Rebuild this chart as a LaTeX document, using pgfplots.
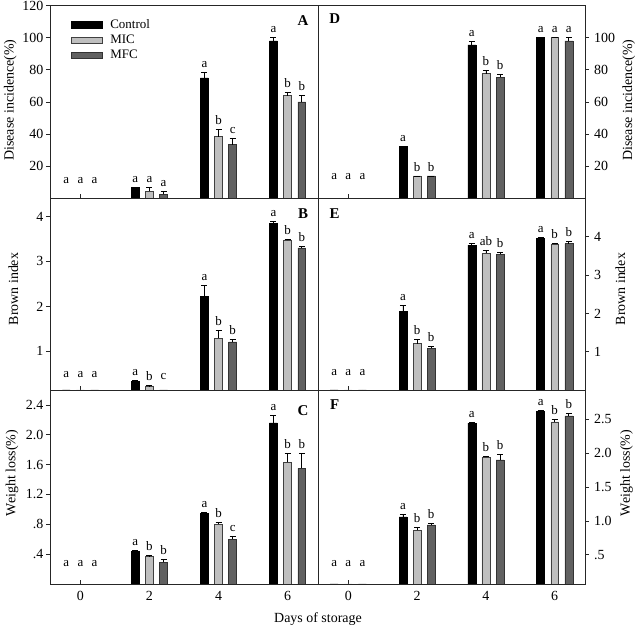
\documentclass[border=0pt]{standalone}
\usepackage{fontspec}
\setmainfont{Liberation Serif}
\usepackage{pgfplots}
\pgfplotsset{compat=1.18}

\pgfplotsset{
  base/.style={scale only axis, enlargelimits=false, ybar, bar width=0.23,
    xmin=-0.88, xmax=6.88, xtick={0,2,4,6}, xticklabels={}, xtick pos=lower,
    xtick align=inside, ytick align=outside, major tick length=4bp,
    axis line style={black!85, line width=0.7bp},
    every tick/.style={black!85, line width=0.7bp},
    /pgf/number format/assume math mode=true,
    tick label style={font=\fontsize{14}{16}\selectfont},
    xticklabel style={inner sep=0pt, yshift=-7.5bp},
    legend image code/.code={\draw[#1] (0bp,-3.2bp) rectangle (31bp,3.2bp);}},
  leftp/.style={base, width=268bp, ytick pos=left, yticklabel style={inner sep=2.5bp}},
  rightp/.style={base, width=267bp, ytick pos=right, yticklabel pos=right, yticklabel style={inner sep=5bp}},
  ylab/.style 2 args={every axis y label/.style={at={(axis description cs:#1,#2)}, rotate=90, anchor=base, font=\fontsize{14}{16}\selectfont}},
  ctrl/.style={fill=black, draw=black, line width=0.5bp, bar shift=-0.41},
  mic/.style={fill=black!25, draw=black!75, line width=0.5bp, bar shift=0},
  mfc/.style={fill=black!62, draw=black!80, line width=0.5bp, bar shift=0.41},
  errb/.style={error bars/.cd, y dir=plus, y explicit,
    error bar style={black, line width=0.7bp},
    error mark options={rotate=90, mark size=3bp, black, line width=0.7bp}},
}
\tikzset{lettr/.style={font=\fontsize{13}{15}\selectfont, anchor=south, inner sep=0pt, yshift=4.5bp},
  plab/.style={font=\bfseries\fontsize{15}{17}\selectfont}}
\newcommand{\lt}[3]{\node[lettr] at (axis cs:#1,#2) {#3};}

\begin{document}
\begin{tikzpicture}
\path[use as bounding box] (0bp,0bp) rectangle (638bp,627bp);

% ---------- A ----------
\begin{axis}[leftp, at={(50bp,428.5bp)}, anchor=south west, height=193bp,
  ymin=0, ymax=120, ytick={20,40,60,80,100,120},
  ylab={-0.136}{0.51}, ylabel={Disease incidence(\%)},
  legend style={at={(axis description cs:0.077,0.928)}, anchor=north west, draw=none, fill=none,
    inner sep=0pt, font=\fontsize{13}{15}\selectfont, row sep=5bp,
    nodes={inner sep=0pt}, /tikz/every odd column/.append style={column sep=8bp}},
  legend cell align=left]
\addplot[ctrl, errb] coordinates {(0,0) +- (0,0) (2,6.7) +- (0,0.3) (4,75) +- (0,3.4) (6,98) +- (0,2)};
\addplot[mic, errb] coordinates {(0,0) +- (0,0) (2,4.5) +- (0,2.3) (4,38.5) +- (0,4.2) (6,64) +- (0,2)};
\addplot[mfc, errb] coordinates {(0,0) +- (0,0) (2,2.5) +- (0,2) (4,33.5) +- (0,4.2) (6,60) +- (0,4)};
\legend{Control,MIC,MFC}
\lt{-0.41}{6.2}{a}\lt{0}{6.2}{a}\lt{0.41}{6.2}{a}
\lt{1.59}{7.0}{a}\lt{2}{6.8}{a}\lt{2.41}{4.5}{a}
\lt{3.59}{78.4}{a}\lt{4}{42.7}{b}\lt{4.41}{37.7}{c}
\lt{5.59}{100}{a}\lt{6}{66}{b}\lt{6.41}{64}{b}
\node[plab] at (axis description cs:0.944,0.921) {A};
\end{axis}

% ---------- D ----------
\begin{axis}[rightp, at={(318bp,428.5bp)}, anchor=south west, height=193bp,
  ymin=0, ymax=120, ytick={20,40,60,80,100},
  ylab={1.176}{0.51}, ylabel={Disease incidence(\%)}]
\addplot[ctrl, errb] coordinates {(0,0) +- (0,0) (2,32.5) +- (0,0) (4,95.5) +- (0,2) (6,100) +- (0,0)};
\addplot[mic, errb] coordinates {(0,0) +- (0,0) (2,14) +- (0,0) (4,77.7) +- (0,2) (6,100) +- (0,0)};
\addplot[mfc, errb] coordinates {(0,0) +- (0,0) (2,14) +- (0,0) (4,75.4) +- (0,2) (6,98) +- (0,2)};
\lt{-0.41}{8.5}{a}\lt{0}{8.5}{a}\lt{0.41}{8.5}{a}
\lt{1.59}{32.5}{a}\lt{2}{14}{b}\lt{2.41}{14}{b}
\lt{3.59}{97.5}{a}\lt{4}{79.7}{b}\lt{4.41}{77.4}{b}
\lt{5.59}{100}{a}\lt{6}{100}{a}\lt{6.41}{100}{a}
\node[plab] at (axis description cs:0.0625,0.934) {D};
\end{axis}

% ---------- B ----------
\begin{axis}[leftp, at={(50bp,237bp)}, anchor=south west, height=191.5bp,
  ymin=0.14, ymax=4.4, ytick={1,2,3,4},
  ylab={-0.119}{0.527}, ylabel={Brown index}]
\addplot[ctrl, errb] coordinates {(0,0) +- (0,0) (2,0.33) +- (0,0.03) (4,2.22) +- (0,0.25) (6,3.84) +- (0,0.05)};
\addplot[mic, errb] coordinates {(0,0) +- (0,0) (2,0.23) +- (0,0.01) (4,1.29) +- (0,0.17) (6,3.47) +- (0,0.03)};
\addplot[mfc, errb] coordinates {(0,0) +- (0,0) (2,0.12) +- (0,0) (4,1.21) +- (0,0.06) (6,3.30) +- (0,0.03)};
\lt{-0.41}{0.31}{a}\lt{0}{0.31}{a}\lt{0.41}{0.31}{a}
\lt{1.59}{0.36}{a}\lt{2}{0.24}{b}\lt{2.41}{0.27}{c}
\lt{3.59}{2.47}{a}\lt{4}{1.46}{b}\lt{4.41}{1.27}{b}
\lt{5.59}{3.89}{a}\lt{6}{3.50}{b}\lt{6.41}{3.33}{b}
\node[plab] at (axis description cs:0.944,0.923) {B};
\end{axis}

% ---------- E ----------
\begin{axis}[rightp, at={(318bp,237bp)}, anchor=south west, height=191.5bp,
  ymin=0, ymax=5, ytick={1,2,3,4},
  ylab={1.15}{0.527}, ylabel={Brown index}]
\addplot[ctrl, errb] coordinates {(0,0) +- (0,0) (2,2.06) +- (0,0.15) (4,3.78) +- (0,0.04) (6,3.96) +- (0,0.02)};
\addplot[mic, errb] coordinates {(0,0) +- (0,0) (2,1.21) +- (0,0.1) (4,3.57) +- (0,0.08) (6,3.81) +- (0,0.03)};
\addplot[mfc, errb] coordinates {(0,0) +- (0,0) (2,1.09) +- (0,0.04) (4,3.55) +- (0,0.05) (6,3.82) +- (0,0.06)};
\lt{-0.41}{0.26}{a}\lt{0}{0.26}{a}\lt{0.41}{0.26}{a}
\lt{1.59}{2.21}{a}\lt{2}{1.31}{b}\lt{2.41}{1.13}{b}
\lt{3.59}{3.82}{a}\lt{4}{3.65}{ab}\lt{4.41}{3.60}{b}
\lt{5.59}{3.98}{a}\lt{6}{3.84}{b}\lt{6.41}{3.88}{b}
\node[plab] at (axis description cs:0.0625,0.923) {E};
\end{axis}

% ---------- C ----------
\begin{axis}[leftp, at={(50bp,43bp)}, anchor=south west, height=194bp,
  ymin=0, ymax=2.6, ytick={0.4,0.8,1.2,1.6,2.0,2.4}, yticklabels={.4,.8,1.2,1.6,2.0,2.4},
  xticklabels={0,2,4,6},
  ylab={-0.129}{0.572}, ylabel={Weight loss(\%)}]
\addplot[ctrl, errb] coordinates {(0,0) +- (0,0) (2,0.435) +- (0,0.01) (4,0.95) +- (0,0.01) (6,2.16) +- (0,0.1)};
\addplot[mic, errb] coordinates {(0,0) +- (0,0) (2,0.37) +- (0,0.01) (4,0.80) +- (0,0.03) (6,1.63) +- (0,0.12)};
\addplot[mfc, errb] coordinates {(0,0) +- (0,0) (2,0.29) +- (0,0.04) (4,0.60) +- (0,0.04) (6,1.55) +- (0,0.2)};
\lt{-0.41}{0.17}{a}\lt{0}{0.17}{a}\lt{0.41}{0.17}{a}
\lt{1.59}{0.445}{a}\lt{2}{0.38}{b}\lt{2.41}{0.33}{b}
\lt{3.59}{0.96}{a}\lt{4}{0.83}{b}\lt{4.41}{0.64}{c}
\lt{5.59}{2.26}{a}\lt{6}{1.75}{b}\lt{6.41}{1.75}{b}
\node[plab] at (axis description cs:0.944,0.893) {C};
\end{axis}

% ---------- F ----------
\begin{axis}[rightp, at={(318bp,43bp)}, anchor=south west, height=194bp,
  ymin=0.07, ymax=2.93, ytick={0.5,1.0,1.5,2.0,2.5}, yticklabels={.5,1.0,1.5,2.0,2.5},
  xticklabels={0,2,4,6},
  ylab={1.168}{0.572}, ylabel={Weight loss(\%)}]
\addplot[ctrl, errb] coordinates {(0,0) +- (0,0) (2,1.06) +- (0,0.04) (4,2.44) +- (0,0.01) (6,2.61) +- (0,0.02)};
\addplot[mic, errb] coordinates {(0,0) +- (0,0) (2,0.86) +- (0,0.05) (4,1.94) +- (0,0.01) (6,2.46) +- (0,0.04)};
\addplot[mfc, errb] coordinates {(0,0) +- (0,0) (2,0.94) +- (0,0.02) (4,1.90) +- (0,0.08) (6,2.55) +- (0,0.04)};
\lt{-0.41}{0.25}{a}\lt{0}{0.25}{a}\lt{0.41}{0.25}{a}
\lt{1.59}{1.10}{a}\lt{2}{0.91}{b}\lt{2.41}{0.96}{b}
\lt{3.59}{2.45}{a}\lt{4}{1.95}{b}\lt{4.41}{1.98}{b}
\lt{5.59}{2.63}{a}\lt{6}{2.50}{b}\lt{6.41}{2.59}{b}
\node[plab] at (axis description cs:0.0625,0.923) {F};
\end{axis}

\node[font=\fontsize{14}{16}\selectfont, anchor=base] at (318bp,5bp) {Days of storage};
\end{tikzpicture}
\end{document}
